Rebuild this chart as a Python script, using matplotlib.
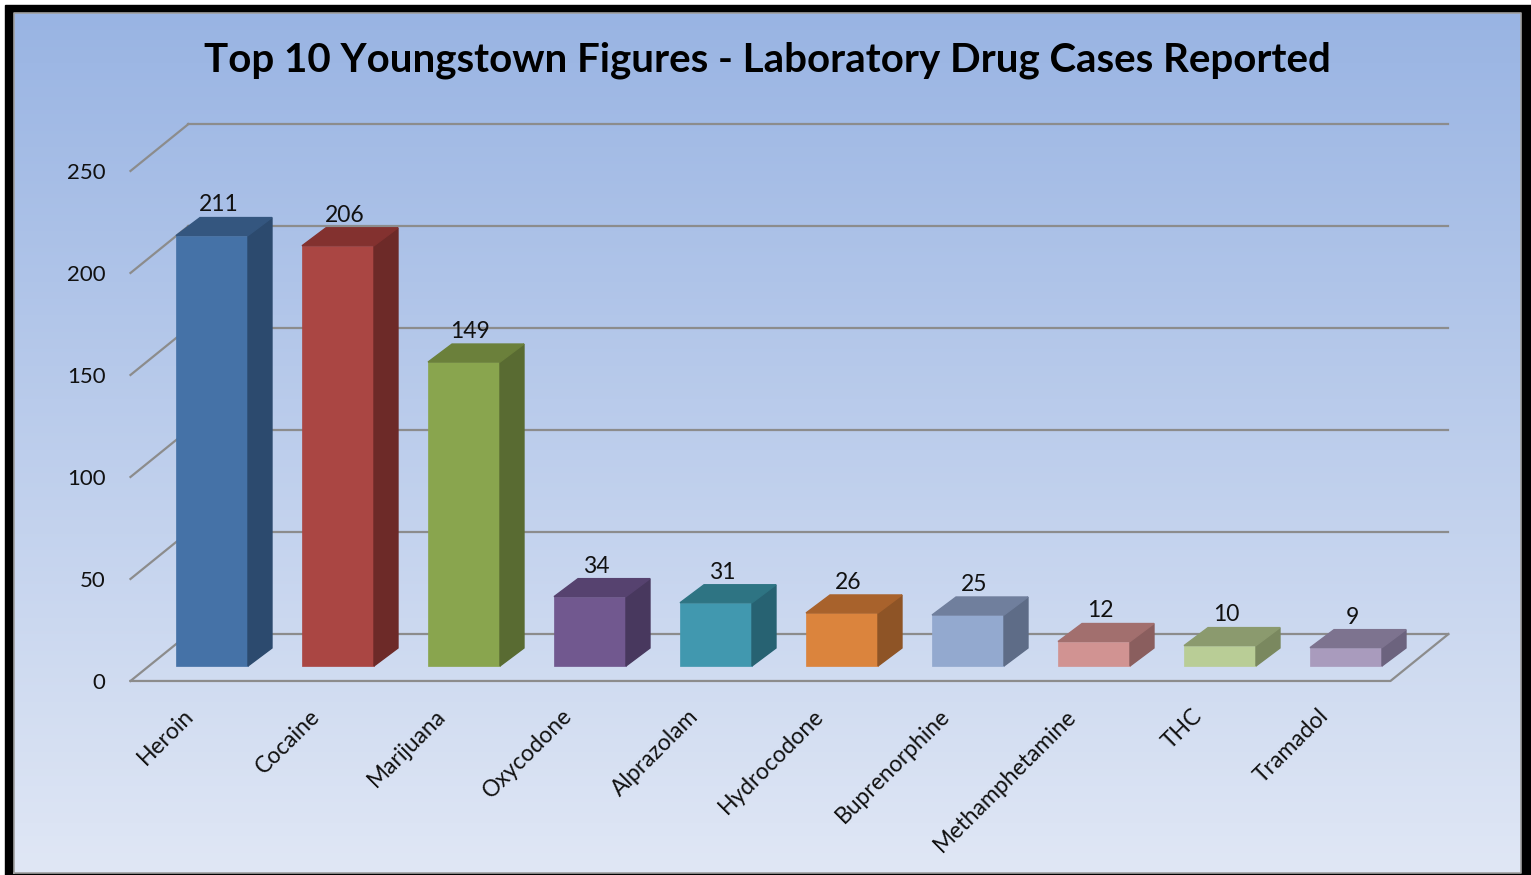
import numpy as np
import matplotlib
matplotlib.use("Agg")
from matplotlib import pyplot as plt
from matplotlib.patches import Polygon, Rectangle

# data
drugs = ["Heroin", "Cocaine", "Marijuana", "Oxycodone", "Alprazolam",
         "Hydrocodone", "Buprenorphine", "Methamphetamine", "THC", "Tramadol"]
cases = [211, 206, 149, 34, 31, 26, 25, 12, 10, 9]
y_ticks = [0, 50, 100, 150, 200, 250]
title = "Top 10 Youngstown Figures - Laboratory Drug Cases Reported"

# front / side / top shades for each bar
front_cols = ["#4572a7", "#aa4643", "#89a54e", "#71588f", "#4198af",
              "#db843d", "#93a9cf", "#d19392", "#b9cd96", "#a99bbd"]
side_cols = ["#2c4a6e", "#6d2a28", "#596b32", "#48385e", "#276272",
             "#8e5426", "#5e6c87", "#8a5e5e", "#7a885f", "#6c637e"]
top_cols = ["#34567f", "#83312f", "#6b803b", "#56426f", "#2e7483",
            "#a8622c", "#707f9d", "#a26f6e", "#8b9a6e", "#7d738f"]

W, H = 1531, 875
fig = plt.figure(figsize=(W / 100, H / 100), dpi=100)
fig.patch.set_facecolor("white")

# background: black frame + blue gradient
bg = fig.add_axes([0, 0, 1, 1])
bg.set_xlim(0, W)
bg.set_ylim(H, 0)
bg.axis("off")
bg.add_patch(Rectangle((5, 5), W, H, color="black", zorder=0))
grad = np.linspace(0, 1, 256).reshape(-1, 1)
top_rgb = np.array([0x99, 0xb4, 0xe3]) / 255
bot_rgb = np.array([0xe0, 0xe7, 0xf5]) / 255
img = top_rgb + grad[..., None] * (bot_rgb - top_rgb)
bg.imshow(img.reshape(256, 1, 3), extent=(14, 1521, H - 2, 13), aspect="auto", zorder=1)
bg.plot([14, 14, 1521, 1521, 14], [H - 2, 13, 13, H - 2, H - 2], color="#a0a0a0", lw=1.2, zorder=2)

fig.text(767 / W, 1 - 60 / H, title, ha="center", va="center",
         fontsize=29, fontweight="bold", family=["Lato", "DejaVu Sans"])

# chart axes, x unit = one category, y unit = one case
ax = fig.add_axes([132 / W, 185 / H, 1328 / W, 590 / H])
ax.set_facecolor("none")
x0 = -0.635
ax.set_xlim(x0, x0 + 1328 / 126)
ax.set_ylim(-24 / 2.04, 566 / 2.04)
for s in ax.spines.values():
    s.set_visible(False)

n = len(cases)
x = np.arange(n)
bw = 0.571
bdx, bdy = 24 / 126, 18 / 2.04          # bar depth
fdx, fdy = -0.147, -7.34                # front edge of floor vs bar plane
kdx, kdy = 0.313, 15.66                 # back wall vs bar plane
floor_l, floor_r = -0.5, n - 0.5
gc = "#8c8c8c"

for v in y_ticks:
    ax.plot([floor_l + kdx, floor_r + kdx], [v + kdy, v + kdy], color=gc, lw=1.6, zorder=1)
    ax.plot([floor_l + fdx, floor_l + kdx], [v + fdy, v + kdy], color=gc, lw=1.6, zorder=1,
            clip_on=False)
# floor front edge and right edge
ax.plot([floor_l + fdx, floor_r + fdx, floor_r + kdx], [fdy, fdy, kdy],
        color=gc, lw=1.6, zorder=1, clip_on=False)

ax.bar(x, cases, width=bw, color=front_cols, zorder=3, edgecolor=front_cols, lw=0.5)
for i, v in enumerate(cases):
    r = x[i] + bw / 2
    l = x[i] - bw / 2
    ax.add_patch(Polygon([(r, 0), (r + bdx, bdy), (r + bdx, v + bdy), (r, v)],
                         closed=True, color=side_cols[i], zorder=3))
    ax.add_patch(Polygon([(l, v), (r, v), (r + bdx, v + bdy), (l + bdx, v + bdy)],
                         closed=True, color=top_cols[i], zorder=3))
    ax.text(x[i] + 0.05, v + bdy + 3, str(v), ha="center", va="baseline",
            fontsize=16.5, color="#111111", family=["Lato", "DejaVu Sans"], zorder=4)

ax.set_yticks([v + fdy for v in y_ticks], [str(v) for v in y_ticks])
ax.set_xticks(x - 0.11, drugs)
ax.tick_params(axis="y", length=0, pad=19, labelsize=16)
ax.tick_params(axis="x", length=0, pad=11, labelsize=16.5)
for lab in ax.get_xticklabels():
    lab.set_rotation(45)
    lab.set_ha("right")
    lab.set_va("top")
for lab in ax.get_xticklabels() + ax.get_yticklabels():
    lab.set_family(["Lato", "DejaVu Sans"])
    lab.set_color("#111111")

fig.savefig("out.png", dpi=100)
